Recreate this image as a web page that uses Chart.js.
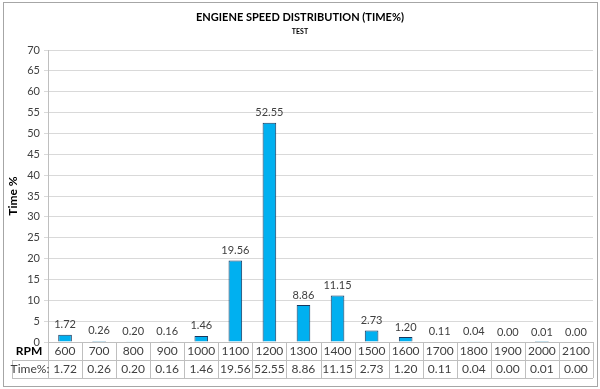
<!DOCTYPE html>
<html>
<head>
<meta charset="utf-8">
<script src="https://cdn.jsdelivr.net/npm/chart.js@4/dist/chart.umd.min.js"></script>
<style>
  html, body { margin: 0; padding: 0; background: #fff; }
  #wrap { width: 600px; height: 389px; position: relative; }
</style>
</head>
<body>
<div id="wrap"><canvas id="speedChart" width="600" height="389"></canvas></div>
<script>
const rpm = ['600', '700', '800', '900', '1000', '1100', '1200', '1300', '1400', '1500', '1600', '1700', '1800', '1900', '2000', '2100'];
const timePct = [1.72, 0.26, 0.20, 0.16, 1.46, 19.56, 52.55, 8.86, 11.15, 2.73, 1.20, 0.11, 0.04, 0.00, 0.01, 0.00];
const titulo = 'ENGIENE SPEED DISTRIBUTION (TIME%)';
const subtitulo = 'TEST';

const fuente = 'Lato, "Open Sans", sans-serif';
const gris = '#404040';

// marco, titulos, etiquetas sobre las barras y tabla de datos
const extras = {
    id: 'extras',
    beforeDraw(chart) {
        const c = chart.ctx;
        c.save();
        c.fillStyle = '#fff';
        c.fillRect(0, 0, chart.width, chart.height);
        c.strokeStyle = '#a6a6a6';
        c.lineWidth = 1;
        c.strokeRect(3.5, 2.5, 594, 384);
        c.restore();
    },
    afterDraw(chart) {
        const c = chart.ctx;
        const x = chart.scales.x;
        const area = chart.chartArea;
        c.save();

        c.fillStyle = '#000';
        c.textAlign = 'center';
        c.textBaseline = 'middle';
        c.font = 'bold 11px ' + fuente;
        c.fillText(titulo, 300, 17);
        c.font = 'bold 7px ' + fuente;
        c.fillText(subtitulo, 300, 32);

        // valores encima de cada barra
        const meta = chart.getDatasetMeta(0);
        c.font = '11px ' + fuente;
        c.fillStyle = gris;
        meta.data.forEach((bar, i) => {
            c.fillText(timePct[i].toFixed(2), bar.x, bar.y - 10);
        });

        // tabla
        const top = area.bottom;
        const mid = top + 18;
        const bot = top + 36;
        const paso = x.getPixelForValue(1) - x.getPixelForValue(0);
        c.strokeStyle = '#bfbfbf';
        c.lineWidth = 1;
        c.beginPath();
        c.moveTo(12, mid + 0.5); c.lineTo(area.right, mid + 0.5);
        c.moveTo(12, bot + 0.5); c.lineTo(area.right, bot + 0.5);
        c.moveTo(12.5, mid); c.lineTo(12.5, bot);
        for (let i = 0; i <= rpm.length; i++) {
            const px = Math.round(x.getPixelForValue(i) - paso / 2) + 0.5;
            c.moveTo(px, top); c.lineTo(px, bot);
        }
        c.stroke();

        c.fillStyle = '#000';
        c.font = 'bold 12px ' + fuente;
        c.fillText('RPM', 29, top + 9);
        c.font = '12px ' + fuente;
        c.fillStyle = gris;
        c.fillText('Time%:', 30, mid + 9);
        rpm.forEach((r, i) => {
            const px = x.getPixelForValue(i);
            c.fillText(r, px, top + 9);
            c.fillText(timePct[i].toFixed(2), px, mid + 9);
        });
        c.restore();
    }
};

new Chart(document.getElementById('speedChart'), {
    type: 'bar',
    data: {
        labels: rpm,
        datasets: [{
            label: 'Time%',
            data: timePct,
            backgroundColor: '#00b0f0',
            borderColor: '#17375e',
            borderWidth: 1,
            categoryPercentage: 1,
            barPercentage: 0.4
        }]
    },
    options: {
        responsive: false,
        animation: false,
        layout: { padding: { left: 6, right: 7, top: 50, bottom: 39 } },
        plugins: {
            legend: { display: false },
            tooltip: { enabled: false },
            title: { display: false }
        },
        scales: {
            x: {
                grid: { display: false },
                border: { color: '#bfbfbf' },
                ticks: { display: false }
            },
            y: {
                min: 0,
                max: 70,
                afterFit: (s) => { s.width = 42; },
                ticks: { stepSize: 5, color: gris, font: { family: fuente, size: 11 }, padding: 4 },
                grid: { color: '#d9d9d9', tickLength: 4 },
                border: { color: '#bfbfbf' },
                title: {
                    display: true,
                    text: 'Time %',
                    color: '#000',
                    font: { family: fuente, size: 12, weight: 'bold' },
                    padding: 0
                }
            }
        }
    },
    plugins: [extras]
});
</script>
</body>
</html>
